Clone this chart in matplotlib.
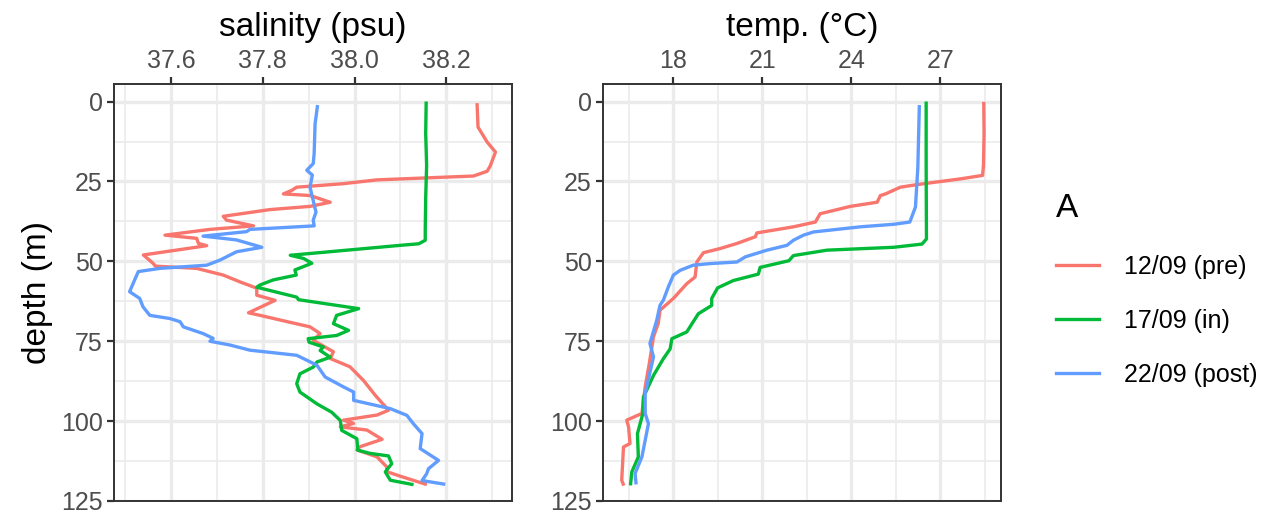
import matplotlib
matplotlib.use('Agg')
import matplotlib.pyplot as plt
from matplotlib.lines import Line2D
import numpy as np

plt.rcParams['font.family'] = ['Liberation Sans', 'DejaVu Sans']

labels = ['12/09 (pre)', '17/09 (in)', '22/09 (post)']
colors = ['#F8766D', '#00BA38', '#619CFF']

# salinity profiles (depth m, psu)
sal_pre_depth = [1, 8, 12.7, 15.8, 20, 21.8, 23.3, 24.5, 25.7, 26.8, 27.8, 28.9, 29.4, 31.5, 32.8,
                 33.8, 35.9, 37.1, 38.9, 40, 41.8, 42.8, 44.4, 45.1, 48, 50.6, 51.5, 52.2, 54.3,
                 56.4, 58.4, 60.6, 62.2, 66.1, 66.9, 68.6, 70.5, 72.6, 74.7, 78.3, 80.4, 83, 87.2,
                 91.9, 96.6, 98.1, 99.7, 100.7, 101.8, 102.8, 105.7, 108, 109, 111.2, 114.3, 115.8,
                 117.4, 119.7]
sal_pre = [38.267, 38.269, 38.289, 38.307, 38.296, 38.289, 38.259, 38.049, 37.975, 37.874, 37.863,
           37.845, 37.903, 37.947, 37.903, 37.816, 37.714, 37.721, 37.780, 37.685, 37.587, 37.656,
           37.660, 37.678, 37.540, 37.561, 37.566, 37.656, 37.714, 37.750, 37.787, 37.787, 37.827,
           37.769, 37.794, 37.845, 37.903, 37.925, 37.910, 37.954, 37.947, 37.990, 38.019, 38.045,
           38.074, 38.049, 37.976, 37.998, 37.969, 38.027, 38.060, 38.012, 38.005, 38.049, 38.070,
           38.070, 38.103, 38.154]

sal_in_depth = [0.5, 10, 20, 30, 40, 43.4, 44.5, 45, 46.6, 48.1, 49.1, 50.6, 52.7, 54.3, 55.8, 57.4,
                58.1, 61.2, 62, 64.8, 66.9, 69.5, 71.6, 73.2, 74.2, 75.3, 76.8, 77.9, 80, 81.5,
                83.1, 85.2, 88.3, 90.9, 94.6, 97.2, 99.8, 102.9, 105.5, 109.1, 110.1, 110.9, 113.3,
                115.9, 118.5, 119.8]
sal_in = [38.156, 38.155, 38.157, 38.155, 38.154, 38.154, 38.14, 38.099, 37.976, 37.860, 37.889,
          37.907, 37.870, 37.873, 37.823, 37.794, 37.787, 37.874, 37.878, 38.009, 37.961, 37.954,
          37.987, 37.961, 37.899, 37.901, 37.932, 37.925, 37.947, 37.918, 37.910, 37.881, 37.874,
          37.881, 37.918, 37.950, 37.969, 37.972, 38.005, 38.007, 38.034, 38.074, 38.081, 38.067,
          38.078, 38.125]

sal_post_depth = [1.6, 7, 16.3, 19.4, 21.5, 23, 26.8, 31, 34.6, 37.1, 38.9, 40, 40.7, 42.1, 43.3,
                  45.6, 47, 49.6, 51.2, 52.2, 53.2, 55.8, 59.5, 61.6, 64.2, 66.9, 67.9, 68.9, 70.5,
                  72.6, 74.1, 75, 76.2, 77.8, 79.4, 82.5, 86.2, 89.3, 90.9, 93.5, 96.1, 98.2, 100.8,
                  103.9, 108.6, 112.3, 114.9, 116.5, 118.6, 119.7]
sal_post = [37.919, 37.914, 37.912, 37.910, 37.896, 37.908, 37.903, 37.910, 37.916, 37.910, 37.912,
            37.772, 37.765, 37.670, 37.743, 37.798, 37.743, 37.707, 37.678, 37.576, 37.529, 37.521,
            37.510, 37.532, 37.539, 37.554, 37.598, 37.620, 37.627, 37.670, 37.692, 37.685, 37.729,
            37.772, 37.874, 37.918, 37.936, 37.976, 37.998, 37.998, 38.078, 38.114, 38.128, 38.147,
            38.143, 38.183, 38.161, 38.157, 38.147, 38.194]

# temperature profiles (depth m, degC)
tmp_pre_depth = [0.6, 10, 20, 23.1, 24.2, 25.7, 26.3, 26.8, 28.9, 29.4, 31.5, 32.8, 35.1, 37.7, 39.2,
                 41.1, 42.3, 44.4, 46, 47.3, 50.2, 54.9, 57, 61.6, 65.3, 69.4, 73.6, 81.9, 89.3,
                 97.6, 99.7, 101.8, 107, 108.1, 118.5, 119.7]
tmp_pre = [28.46, 28.47, 28.45, 28.42, 27.67, 26.44, 25.99, 25.65, 25.15, 24.98, 24.87, 23.97, 22.95,
           22.79, 22.05, 20.82, 20.77, 20.15, 19.58, 19.02, 18.80, 18.74, 18.46, 18.01, 17.56,
           17.50, 17.34, 17.20, 17.06, 16.95, 16.44, 16.50, 16.55, 16.33, 16.27, 16.32]

tmp_in_depth = [0.5, 20, 43, 44.6, 45.6, 46.5, 48.2, 49.8, 51.9, 54, 56, 58.3, 61.6, 63.8, 66.4,
                72.1, 74.2, 77.4, 80.5, 85.7, 92.5, 97.7, 103.9, 111.2, 115.9, 119.6]
tmp_in = [26.52, 26.52, 26.53, 26.38, 25.43, 23.18, 22.05, 21.9, 20.93, 20.87, 20.03, 19.5, 19.30,
          19.30, 18.85, 18.46, 17.96, 17.90, 17.67, 17.34, 17.0, 16.98, 16.80, 16.83, 16.61, 16.57]

tmp_post_depth = [1.6, 20.6, 33, 37.7, 38.4, 39.2, 40.8, 41.8, 43.4, 45, 46.5, 48.6, 50.2, 50.7,
                  51.2, 52.8, 54.3, 58, 62.2, 63.75, 68.4, 75.7, 79.9, 91.4, 97.6, 100.8, 111.2,
                  116.4, 119.3]
tmp_post = [26.29, 26.24, 26.16, 25.97, 25.43, 24.30, 22.73, 22.39, 22.05, 21.83, 21.16, 20.43,
            20.15, 19.25, 18.68, 18.24, 18.01, 17.84, 17.67, 17.56, 17.45, 17.22, 17.34, 17.06,
            17.06, 17.17, 16.95, 16.72, 16.75]

sal_series = [(sal_pre, sal_pre_depth), (sal_in, sal_in_depth), (sal_post, sal_post_depth)]
tmp_series = [(tmp_pre, tmp_pre_depth), (tmp_in, tmp_in_depth), (tmp_post, tmp_post_depth)]

sal_ticks = [37.6, 37.8, 38.0, 38.2]
tmp_ticks = [18, 21, 24, 27]
depth_ticks = [0, 25, 50, 75, 100, 125]

W, H = 1280, 519
fig = plt.figure(figsize=(W / 100, H / 100), dpi=100)


def panel(rect_px, series, xticks, xminor, xlim, xlabel):
    x0, y0, x1, y1 = rect_px
    ax = fig.add_axes([x0 / W, 1 - y1 / H, (x1 - x0) / W, (y1 - y0) / H])
    ax.set_facecolor('white')
    for (vals, dep), c in zip(series, colors):
        ax.plot(vals, dep, color=c, lw=2.4, solid_joinstyle='round', zorder=3)
    ax.set_xlim(*xlim)
    ax.set_ylim(124.8, -5.5)
    ax.set_xticks(xticks)
    ax.set_xticks(xminor, minor=True)
    ax.set_yticks(depth_ticks)
    ax.set_yticks([12.5, 37.5, 62.5, 87.5, 112.5], minor=True)
    ax.grid(True, which='major', color='#EBEBEB', lw=2.4, zorder=0)
    ax.grid(True, which='minor', color='#EBEBEB', lw=1.2, zorder=0)
    ax.set_axisbelow(True)
    ax.xaxis.tick_top()
    ax.xaxis.set_label_position('top')
    ax.tick_params(which='major', length=5, width=1.6, color='#333333',
                   labelsize=18, labelcolor='#4D4D4D', pad=3)
    ax.tick_params(which='minor', length=0)
    ax.tick_params(axis='x', which='major', bottom=False, top=True)
    for s in ax.spines.values():
        s.set_color('#333333')
        s.set_linewidth(1.4)
    ax.set_xlabel(xlabel, fontsize=24, labelpad=9)
    return ax


ax1 = panel((114, 84, 512, 501), sal_series, sal_ticks,
            [37.5, 37.7, 37.9, 38.1, 38.3], (37.476, 38.343), 'salinity (psu)')
ax1.set_xticklabels(['37.6', '37.8', '38.0', '38.2'])
ax1.set_ylabel('depth (m)', fontsize=24, labelpad=6)

ax2 = panel((603, 84, 1001, 501), tmp_series, tmp_ticks,
            [16.5, 19.5, 22.5, 25.5, 28.5], (15.64, 29.04), 'temp. (°C)')

handles = [Line2D([0], [0], color=c, lw=2.4) for c in colors]
leg = fig.legend(handles, labels, title='A', loc='center left',
                 bbox_to_anchor=(1056 / W, 1 - 290 / H), frameon=False,
                 fontsize=18, title_fontsize=24, handlelength=1.7,
                 labelspacing=1.2, handletextpad=1.0, borderaxespad=0,
                 borderpad=0)
leg._legend_box.align = 'left'
leg._legend_box.sep = 22

fig.savefig('out.png', dpi=100)
